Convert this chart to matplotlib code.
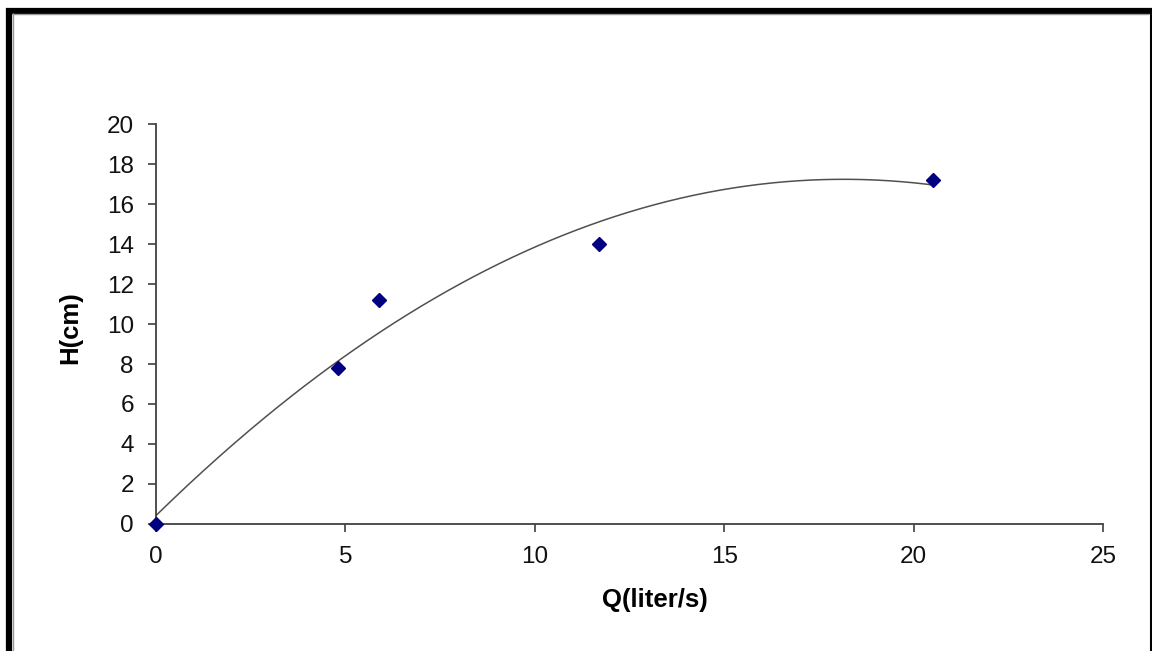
import numpy as np
import matplotlib.pyplot as plt
from matplotlib.lines import Line2D

plt.rcParams['font.family'] = ['Liberation Sans', 'DejaVu Sans']

# Datos
Q = [0, 4.8, 5.9, 11.7, 20.5]      # liter/s
H = [0, 7.8, 11.2, 14.0, 17.2]     # cm

x_ticks = [0, 5, 10, 15, 20, 25]
y_ticks = [0, 2, 4, 6, 8, 10, 12, 14, 16, 18, 20]

fig = plt.figure(figsize=(11.52, 6.51), dpi=100)
fig.patch.set_facecolor('white')
ax = fig.add_axes([0.1354, 0.1951, 0.8221, 0.6144])

# Linea de tendencia polinomica (orden 2), como en Excel
coef = np.polyfit(Q, H, 2)
q_fit = np.linspace(min(Q), max(Q), 300)
ax.plot(q_fit, np.polyval(coef, q_fit), color='#505050', lw=1.1, zorder=2)

ax.plot(Q, H, linestyle='none', marker='D', color='#000080', markersize=7.5,
        clip_on=False, zorder=3)

ax.set_xlim(0, 25)
ax.set_ylim(0, 20)
ax.set_xticks(x_ticks)
ax.set_yticks(y_ticks)

for s in ['top', 'right']:
    ax.spines[s].set_visible(False)
for s in ['left', 'bottom']:
    ax.spines[s].set_color('#404040')
    ax.spines[s].set_linewidth(1.3)

ax.tick_params(direction='out', length=5.5, width=1.2, color='#404040',
               labelsize=17.5, labelcolor='#111111', pad=10.5)

ax.set_xlabel('Q(liter/s)', fontsize=18.5, fontweight='bold')
ax.set_ylabel('H(cm)', fontsize=18.5, fontweight='bold')
ax.xaxis.set_label_coords(0.527, -0.16)
ax.yaxis.set_label_coords(-0.078, 0.49)

# Marco exterior
W, Hh = 1152, 651
def px(x0, y0, x1, y1, c, lw):
    fig.add_artist(Line2D([x0 / W, x1 / W], [1 - y0 / Hh, 1 - y1 / Hh],
                          color=c, lw=lw, solid_capstyle='butt',
                          transform=fig.transFigure))

px(6, 10.5, 1152, 10.5, 'black', 4.5)
px(9, 8, 9, 651, 'black', 4.5)
px(1150.5, 8, 1150.5, 651, 'black', 1.5)
px(12, 13.8, 1149, 13.8, '#999999', 1.0)
px(13, 13, 13, 651, '#999999', 1.0)

fig.savefig('out.png', dpi=100)
